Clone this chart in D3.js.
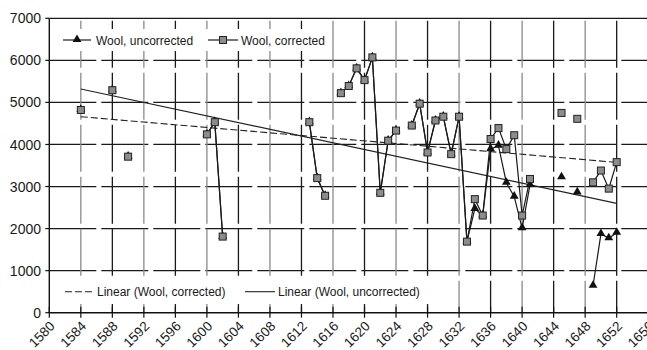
<!DOCTYPE html>
<html>
<head>
<meta charset="utf-8">
<script src="https://cdn.jsdelivr.net/npm/d3@7"></script>
<style>
  body { margin: 0; background: #fff; }
  svg { display: block; font-family: "Liberation Sans", Arial, sans-serif; }
</style>
</head>
<body>
<div id="chart"></div>
<script>
// years with an observation (both series share them)
const years = [1584, 1588, 1590, 1600, 1601, 1602, 1613, 1614, 1615, 1617, 1618, 1619, 1620,
  1621, 1622, 1623, 1624, 1626, 1627, 1628, 1629, 1630, 1631, 1632, 1633, 1634, 1635, 1636,
  1637, 1638, 1639, 1640, 1641, 1645, 1647, 1649, 1650, 1651, 1652];

const woolCorrected = [4820, 5290, 3710, 4240, 4530, 1810, 4530, 3200, 2780, 5220, 5390, 5810, 5530,
  6070, 2850, 4090, 4330, 4450, 4970, 3810, 4570, 4660, 3770, 4660, 1690, 2700, 2310, 4130,
  4390, 3890, 4220, 2310, 3180, 4750, 4610, 3100, 3380, 2950, 3580];

const woolUncorrected = [4820, 5290, 3710, 4240, 4530, 1810, 4530, 3200, 2780, 5220, 5390, 5810, 5530,
  6070, 2850, 4090, 4330, 4450, 4970, 3810, 4570, 4660, 3770, 4660, 1690, 2470, 2310, 3890,
  3970, 3090, 2760, 2010, 3040, 3220, 2860, 640, 1870, 1770, 1900];

// trend lines (end points)
const trendYears = [1584, 1652];
const trendCorrected = [4660, 3575];
const trendUncorrected = [5320, 2600];

const xTicks = [1580, 1584, 1588, 1592, 1596, 1600, 1604, 1608, 1612, 1616, 1620, 1624, 1628,
  1632, 1636, 1640, 1644, 1648, 1652, 1656];
const yTicks = [0, 1000, 2000, 3000, 4000, 5000, 6000, 7000];

const W = 647, H = 350;
const plotLeft = 49.3, plotRight = 648.2, plotTop = 18.3, plotBottom = 312.7;

const svg = d3.select("#chart").append("svg")
  .attr("width", W)
  .attr("height", H);

const x = d3.scaleLinear().domain([1580, 1656]).range([plotLeft, plotRight]);
const y = d3.scaleLinear().domain([0, 7000]).range([plotBottom, plotTop]);

// gridlines
const grid = svg.append("g");
grid.selectAll(".hgrid")
  .data(yTicks.filter(d => d > 0))
  .enter().append("line")
  .attr("x1", plotLeft).attr("x2", plotRight)
  .attr("y1", d => y(d)).attr("y2", d => y(d))
  .attr("stroke", "#1a1a1a")
  .attr("stroke-width", 1.2)
  .attr("stroke-dasharray", d => d === 7000 ? null : "47,5");

grid.selectAll(".vgrid")
  .data(xTicks.filter(d => d > 1580))
  .enter().append("line")
  .attr("x1", d => x(d)).attr("x2", d => x(d))
  .attr("y1", plotBottom).attr("y2", plotTop)
  .attr("stroke", (d, i) => i % 2 === 0 ? "#8a8a8a" : "#1a1a1a")
  .attr("stroke-width", 1.3)
  .attr("stroke-dasharray", "47,5")
  .attr("stroke-dashoffset", 15);

// legend backgrounds (cover the grid)
svg.append("rect").attr("x", 55).attr("y", 29).attr("width", 272).attr("height", 22).attr("fill", "#fff");
svg.append("rect").attr("x", 56).attr("y", 280).attr("width", 374).attr("height", 24).attr("fill", "#fff");

// axes
svg.append("line")
  .attr("x1", plotLeft).attr("x2", plotLeft).attr("y1", plotTop).attr("y2", plotBottom + 0.5)
  .attr("stroke", "#111").attr("stroke-width", 1.4);
svg.append("line")
  .attr("x1", plotLeft).attr("x2", plotRight).attr("y1", plotBottom).attr("y2", plotBottom)
  .attr("stroke", "#111").attr("stroke-width", 1.6);

svg.selectAll(".ytick")
  .data(yTicks)
  .enter().append("line")
  .attr("x1", plotLeft - 4).attr("x2", plotLeft)
  .attr("y1", d => y(d)).attr("y2", d => y(d))
  .attr("stroke", "#111").attr("stroke-width", 1.2);

svg.selectAll(".ylab")
  .data(yTicks)
  .enter().append("text")
  .attr("x", 41)
  .attr("y", d => y(d))
  .attr("dy", "0.36em")
  .attr("text-anchor", "end")
  .attr("font-size", "14px")
  .attr("fill", "#1a1a1a")
  .text(d => d);

svg.selectAll(".xtick")
  .data(xTicks)
  .enter().append("line")
  .attr("x1", d => x(d)).attr("x2", d => x(d))
  .attr("y1", plotBottom - 6).attr("y2", plotBottom + 5)
  .attr("stroke", "#111").attr("stroke-width", 1.2);

svg.selectAll(".xlab")
  .data(xTicks)
  .enter().append("text")
  .attr("transform", d => `translate(${x(d) + 3},${plotBottom + 11}) rotate(-45)`)
  .attr("text-anchor", "end")
  .attr("dy", "0.35em")
  .attr("font-size", "13.5px")
  .attr("fill", "#1a1a1a")
  .text(d => d);

// trend lines
const trendLine = d3.line().x(d => x(d[0])).y(d => y(d[1]));
svg.append("path")
  .datum(trendYears.map((yr, i) => [yr, trendCorrected[i]]))
  .attr("d", trendLine)
  .attr("fill", "none")
  .attr("stroke", "#222")
  .attr("stroke-width", 1.1)
  .attr("stroke-dasharray", "7,3");
svg.append("path")
  .datum(trendYears.map((yr, i) => [yr, trendUncorrected[i]]))
  .attr("d", trendLine)
  .attr("fill", "none")
  .attr("stroke", "#222")
  .attr("stroke-width", 1.1);

// split a series into runs of consecutive years
function runs(values) {
  const out = [];
  let cur = [];
  years.forEach((yr, i) => {
    if (cur.length && yr - cur[cur.length - 1][0] > 1) {
      out.push(cur);
      cur = [];
    }
    cur.push([yr, values[i]]);
  });
  if (cur.length) out.push(cur);
  return out;
}

const seriesLine = d3.line().x(d => x(d[0])).y(d => y(d[1]));
const tri = d3.symbol().type(d3.symbolTriangle).size(34);

function drawSeries(values, marker) {
  const g = svg.append("g");
  runs(values).filter(r => r.length > 1).forEach(r => {
    g.append("path")
      .datum(r)
      .attr("d", seriesLine)
      .attr("fill", "none")
      .attr("stroke", "#1a1a1a")
      .attr("stroke-width", 1.2);
  });
  const pts = years.map((yr, i) => [yr, values[i]]);
  if (marker === "triangle") {
    g.selectAll("path.tri")
      .data(pts)
      .enter().append("path")
      .attr("class", "tri")
      .attr("d", tri)
      .attr("transform", d => `translate(${x(d[0])},${y(d[1]) - 0.5})`)
      .attr("fill", "#111");
  } else {
    g.selectAll("rect")
      .data(pts)
      .enter().append("rect")
      .attr("x", d => x(d[0]) - 3.5)
      .attr("y", d => y(d[1]) - 3.5)
      .attr("width", 7)
      .attr("height", 7)
      .attr("fill", "#8c8c8c")
      .attr("stroke", "#222")
      .attr("stroke-width", 1);
  }
}

drawSeries(woolUncorrected, "triangle");
drawSeries(woolCorrected, "square");

// legends
const legend = svg.append("g").attr("font-size", "12px").attr("fill", "#1a1a1a");
legend.append("line").attr("x1", 63).attr("x2", 91).attr("y1", 40).attr("y2", 40)
  .attr("stroke", "#1a1a1a").attr("stroke-width", 1.2);
legend.append("path").attr("d", tri).attr("transform", "translate(77,39.5)").attr("fill", "#111");
legend.append("text").attr("x", 96).attr("y", 44.5).text("Wool, uncorrected");

legend.append("line").attr("x1", 208).attr("x2", 238).attr("y1", 40).attr("y2", 40)
  .attr("stroke", "#1a1a1a").attr("stroke-width", 1.2);
legend.append("rect").attr("x", 219.5).attr("y", 36.5).attr("width", 7).attr("height", 7)
  .attr("fill", "#8c8c8c").attr("stroke", "#222");
legend.append("text").attr("x", 241).attr("y", 44.5).text("Wool, corrected");

legend.append("line").attr("x1", 65).attr("x2", 92).attr("y1", 291.7).attr("y2", 291.7)
  .attr("stroke", "#222").attr("stroke-width", 1.1).attr("stroke-dasharray", "7,3");
legend.append("text").attr("x", 97).attr("y", 296).text("Linear (Wool, corrected)");

legend.append("line").attr("x1", 245).attr("x2", 275).attr("y1", 291.7).attr("y2", 291.7)
  .attr("stroke", "#222").attr("stroke-width", 1.1);
legend.append("text").attr("x", 278).attr("y", 296).text("Linear (Wool, uncorrected)");
</script>
</body>
</html>
